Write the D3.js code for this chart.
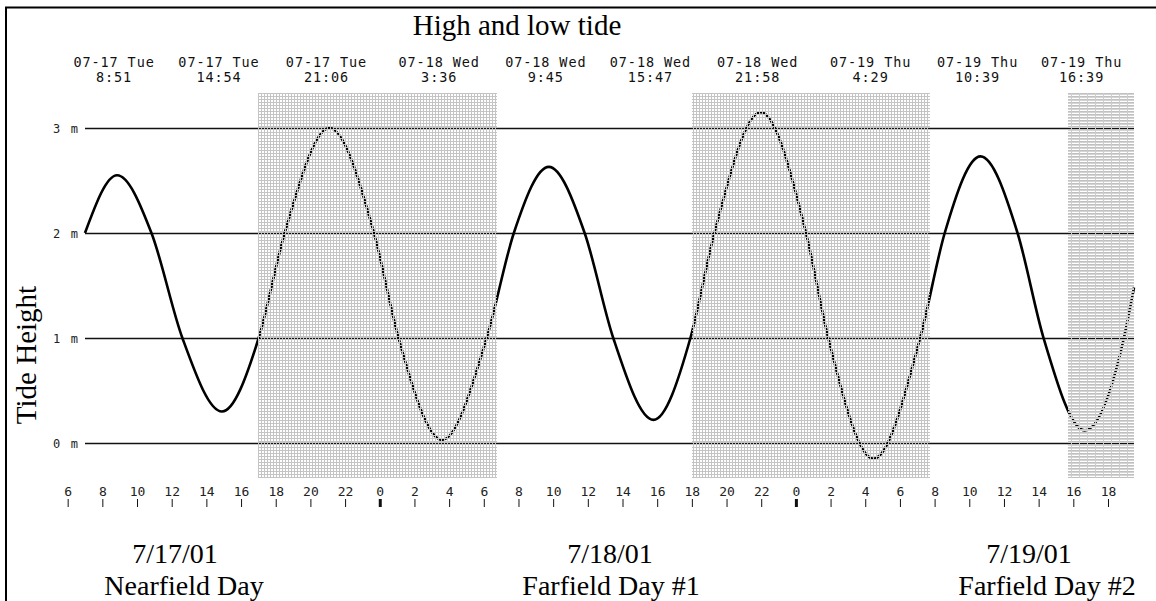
<!DOCTYPE html>
<html>
<head>
<meta charset="utf-8">
<script src="https://cdn.jsdelivr.net/npm/d3@7"></script>
<style>
  html, body { margin: 0; padding: 0; background: #fff; }
  svg { display: block; }
</style>
</head>
<body>
<svg id="chart" width="1156" height="601"></svg>
<script>
// Predicted tide height (m) through the three survey days
const tideTimes = [
  "2001-07-17 07:00", "2001-07-17 08:51", "2001-07-17 10:50", "2001-07-17 12:37",
  "2001-07-17 14:54", "2001-07-17 17:01", "2001-07-17 18:31", "2001-07-17 21:06",
  "2001-07-17 23:40", "2001-07-18 01:05", "2001-07-18 03:36", "2001-07-18 06:10",
  "2001-07-18 07:44", "2001-07-18 09:45", "2001-07-18 11:49", "2001-07-18 13:28",
  "2001-07-18 15:47", "2001-07-18 17:55", "2001-07-18 19:18", "2001-07-18 21:58",
  "2001-07-19 00:35", "2001-07-19 01:52", "2001-07-19 04:29", "2001-07-19 07:10",
  "2001-07-19 08:35", "2001-07-19 10:39", "2001-07-19 12:47", "2001-07-19 14:17",
  "2001-07-19 16:39", "2001-07-19 18:55", "2001-07-19 19:30"
];
const tideHeights = [
  2.00, 2.55, 2.00, 1.00,
  0.30, 1.00, 2.00, 3.00,
  2.00, 1.00, 0.03, 1.00,
  2.00, 2.63, 2.00, 1.00,
  0.22, 1.00, 2.00, 3.15,
  2.00, 1.00, -0.15, 1.00,
  2.00, 2.73, 2.00, 1.00,
  0.12, 1.00, 1.48
];

// High / low tide times listed along the top
const extremeTimes = [
  "2001-07-17 08:51", "2001-07-17 14:54", "2001-07-17 21:06",
  "2001-07-18 03:36", "2001-07-18 09:45", "2001-07-18 15:47", "2001-07-18 21:58",
  "2001-07-19 04:29", "2001-07-19 10:39", "2001-07-19 16:39"
];

// Shaded sampling periods
const shadeStarts = ["2001-07-17 17:00", "2001-07-18 18:00", "2001-07-19 15:40"];
const shadeEnds   = ["2001-07-18 06:45", "2001-07-19 07:45", "2001-07-19 19:30"];
const shadePatterns = ["dots", "dots", "dashes"];

// Axis values
const heightTicks = [0, 1, 2, 3];
const plotStart = "2001-07-17 07:00";
const plotEnd   = "2001-07-19 19:30";
const hourTickStart = "2001-07-17 06:00";
const hourTickEnd   = "2001-07-19 18:00";

// Captions under the axis
const dayDates = ["7/17/01", "7/18/01", "7/19/01"];
const dayNames = ["Nearfield Day", "Farfield Day #1", "Farfield Day #2"];

// ---- layout ----
const parse = d3.timeParse("%Y-%m-%d %H:%M");
const svg = d3.select("#chart");
const monoFont = "'DejaVu Sans Mono', 'Liberation Mono', monospace";
const serifFont = "'Liberation Serif', 'Times New Roman', serif";

const x = d3.scaleTime()
  .domain([parse(plotStart), parse(plotEnd)])
  .range([85, 1134]);
const y = d3.scaleLinear()
  .domain([-1 / 3, 10 / 3])
  .range([478, 93]);

// fill patterns for shaded periods: a fine light-grey screen
const defs = svg.append("defs");
const pDots = defs.append("pattern").attr("id", "dots")
  .attr("patternUnits", "userSpaceOnUse").attr("width", 3).attr("height", 3);
pDots.append("rect").attr("x", 0).attr("y", 0).attr("width", 3).attr("height", 1).attr("fill", "#c4c4c4");
pDots.append("rect").attr("x", 0).attr("y", 1).attr("width", 1).attr("height", 2).attr("fill", "#c4c4c4");
pDots.append("rect").attr("x", 1).attr("y", 1).attr("width", 2).attr("height", 2).attr("fill", "#fff").attr("fill-opacity", 0);

const pDash = defs.append("pattern").attr("id", "dashes")
  .attr("patternUnits", "userSpaceOnUse").attr("width", 8).attr("height", 3);
pDash.append("rect").attr("x", 0).attr("y", 0).attr("width", 7).attr("height", 1).attr("fill", "#c0c0c0");
pDash.append("rect").attr("x", 0).attr("y", 1).attr("width", 8).attr("height", 1).attr("fill", "#d4d4d4");
pDash.append("rect").attr("x", 7).attr("y", 0).attr("width", 1).attr("height", 3).attr("fill", "#cccccc");

// frame (top and left edges)
svg.append("line").attr("x1", 5).attr("x2", 1156).attr("y1", 7.5).attr("y2", 7.5)
  .attr("stroke", "#000").attr("stroke-width", 2);
svg.append("line").attr("x1", 6).attr("x2", 6).attr("y1", 7).attr("y2", 601)
  .attr("stroke", "#000").attr("stroke-width", 2);

// title
svg.append("text")
  .attr("x", 517).attr("y", 35)
  .attr("text-anchor", "middle")
  .attr("font-family", serifFont).attr("font-size", 29)
  .text("High and low tide");

// y-axis title
svg.append("text")
  .attr("transform", "translate(36,355) rotate(-90)")
  .attr("text-anchor", "middle")
  .attr("font-family", serifFont).attr("font-size", 29)
  .text("Tide Height");

// horizontal grid lines with metre labels
const grid = svg.append("g");
grid.selectAll("line").data(heightTicks).join("line")
  .attr("x1", x.range()[0]).attr("x2", x.range()[1])
  .attr("y1", d => Math.round(y(d)) + 0.5).attr("y2", d => Math.round(y(d)) + 0.5)
  .attr("stroke", "#111").attr("stroke-width", 1.4);
grid.selectAll("text").data(heightTicks).join("text")
  .attr("x", 53).attr("y", d => y(d) + 4.5)
  .attr("font-family", monoFont).attr("font-size", 12)
  .attr("fill", "#222")
  .attr("letter-spacing", 1.6)
  .text(d => d + " m");

// tide curve
const series = tideTimes.map((t, i) => ({ t: parse(t), h: tideHeights[i] }));
svg.append("path")
  .datum(series)
  .attr("fill", "none")
  .attr("stroke", "#000")
  .attr("stroke-width", 2.6)
  .attr("d", d3.line().x(d => x(d.t)).y(d => y(d.h)).curve(d3.curveMonotoneX));

// shaded periods drawn over lines so they show through the screen
svg.append("g").selectAll("rect")
  .data(shadeStarts.map((s, i) => ({ s: parse(s), e: parse(shadeEnds[i]), p: shadePatterns[i] })))
  .join("rect")
  .attr("x", d => Math.round(x(d.s)))
  .attr("width", d => Math.round(x(d.e)) - Math.round(x(d.s)))
  .attr("y", y.range()[1])
  .attr("height", y.range()[0] - y.range()[1])
  .attr("fill", d => `url(#${d.p})`);

// high / low tide annotations
const fmtDay = d3.timeFormat("%m-%d %a");
const fmtClock = d3.timeFormat("%-H:%M");
const ann = svg.append("g")
  .attr("font-family", monoFont).attr("font-size", 13.5)
  .attr("letter-spacing", 0.9)
  .attr("fill", "#111")
  .attr("text-anchor", "middle");
const annG = ann.selectAll("g").data(extremeTimes.map(parse)).join("g")
  .attr("transform", d => `translate(${x(d) - 3},0)`);
annG.append("text").attr("y", 67).text(d => fmtDay(d));
annG.append("text").attr("y", 82).text(d => fmtClock(d));

// hour axis with labels above the tick marks
const hourTicks = d3.timeHour.every(2).range(parse(hourTickStart), d3.timeMinute.offset(parse(hourTickEnd), 1));
const axis = svg.append("g")
  .attr("transform", "translate(0,507)")
  .call(d3.axisTop(x)
    .tickValues(hourTicks)
    .tickSize(8)
    .tickPadding(3)
    .tickFormat(d3.timeFormat("%-H")));
axis.select(".domain").remove();
axis.selectAll("text")
  .attr("font-family", monoFont).attr("font-size", 13).attr("fill", "#222");
axis.selectAll(".tick line")
  .attr("stroke", "#111")
  .attr("stroke-width", d => d.getHours() === 0 ? 3 : 1);

// day captions
const captionDateX = [175, 610, 1029];
const captionNameX = [184, 611, 1047];
const cap = svg.append("g").attr("font-family", serifFont).attr("font-size", 28)
  .attr("text-anchor", "middle");
cap.selectAll("text.date").data(dayDates).join("text")
  .attr("class", "date")
  .attr("x", (d, i) => captionDateX[i]).attr("y", 563)
  .text(d => d);
cap.selectAll("text.name").data(dayNames).join("text")
  .attr("class", "name")
  .attr("x", (d, i) => captionNameX[i]).attr("y", 595)
  .text(d => d);
</script>
</body>
</html>
